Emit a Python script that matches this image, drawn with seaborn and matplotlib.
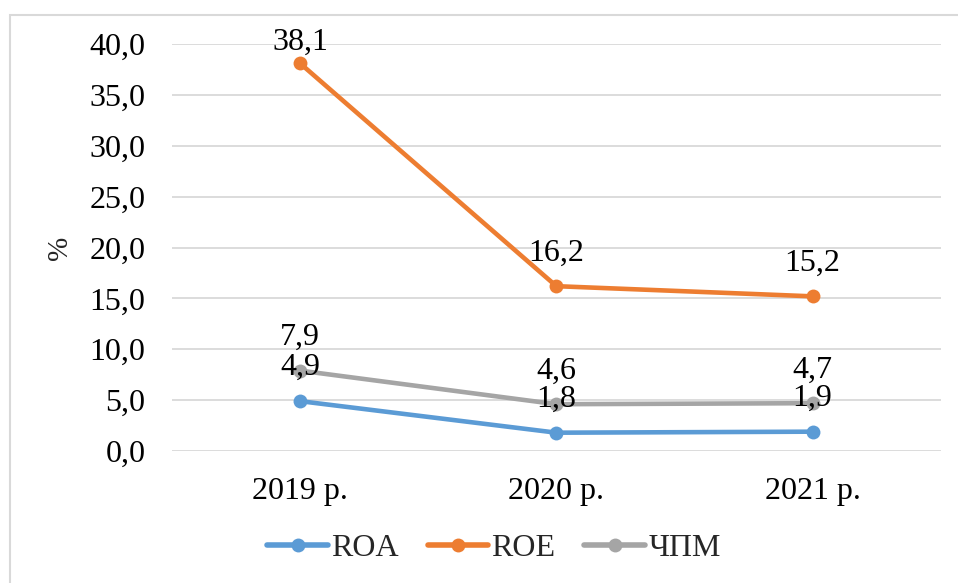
import matplotlib
matplotlib.use("Agg")
import matplotlib.pyplot as plt
from matplotlib.patches import Rectangle
import pandas as pd
import seaborn as sns

years = ["2019 р.", "2020 р.", "2021 р."]
roa = [4.9, 1.8, 1.9]
roe = [38.1, 16.2, 15.2]
cpm = [7.9, 4.6, 4.7]
metrics = ["ROA", "ROE", "ЧПМ"]
colors = ["#5B9BD5", "#ED7D31", "#A5A5A5"]
y_ticks = [0, 5, 10, 15, 20, 25, 30, 35, 40]

series = dict(zip(metrics, [roa, roe, cpm]))
df = pd.DataFrame(
    [(y, m, v) for m in metrics for y, v in zip(years, series[m])],
    columns=["year", "metric", "value"],
)

sns.set_theme(style="white")
serif = ["Liberation Serif", "DejaVu Serif"]
plt.rcParams["font.family"] = serif

fig = plt.figure(figsize=(9.58, 5.83), dpi=100)
ax = fig.add_axes([0.1795, 0.2264, 0.8025, 0.6981])

sns.lineplot(
    data=df, x="year", y="value", hue="metric", hue_order=metrics,
    palette=colors, marker="o", markersize=10, markeredgewidth=0,
    linewidth=3.3, sort=False, ax=ax, solid_capstyle="round",
)

ax.set_xlim(-0.5, 2.5)
ax.set_ylim(0, 40)
ax.set_yticks(y_ticks)
ax.set_yticklabels([f"{t:.1f}".replace(".", ",") for t in y_ticks])
ax.grid(axis="y", color="#D9D9D9", linewidth=1.3)
ax.set_axisbelow(True)
for s in ax.spines.values():
    s.set_visible(False)
ax.tick_params(axis="both", length=0, labelsize=23, colors="black")
ax.tick_params(axis="y", pad=19)
ax.tick_params(axis="x", pad=19)
ax.set_xlabel("")
ax.set_ylabel("%", fontsize=21, labelpad=12)

# value labels above each point, kept inside the plot area near the top
for m in metrics:
    for i, v in enumerate(series[m]):
        off = 15 if v > 36 else 24
        ax.annotate(
            f"{v:.1f}".replace(".", ","), (i, v), xytext=(0, off),
            textcoords="offset points", ha="center", va="center",
            fontsize=23, color="black", zorder=10,
        )

handles, labels = ax.get_legend_handles_labels()
leg = ax.legend(
    handles, labels, loc="center", bbox_to_anchor=(494 / 958, 1 - 548 / 583),
    bbox_transform=fig.transFigure, ncol=3, frameon=False, fontsize=23,
    handlelength=1.9, handletextpad=0.1, columnspacing=0.9,
)
for t in leg.get_texts():
    t.set_fontfamily(serif)
for h in leg.get_lines():
    h.set_solid_capstyle("round")
    h.set_linewidth(4)

fig.patches.append(Rectangle(
    (10 / 958, -0.05), 1.2, 1 - 15 / 583 + 0.05, transform=fig.transFigure,
    fill=False, edgecolor="#D9D9D9", linewidth=1.5,
))

fig.savefig("out.png", dpi=100, facecolor="white")
